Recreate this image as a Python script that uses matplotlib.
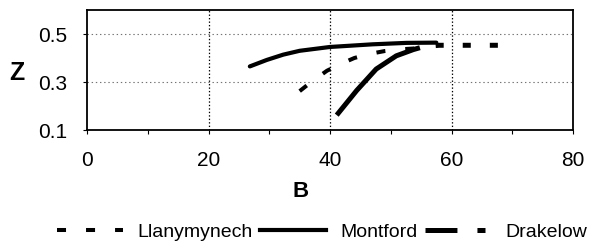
import matplotlib
matplotlib.use('Agg')
import matplotlib.pyplot as plt
from matplotlib.lines import Line2D
from matplotlib.ticker import MultipleLocator

plt.rcParams['font.family'] = ['Liberation Sans', 'DejaVu Sans']
plt.rcParams['lines.scale_dashes'] = False

# Dados
llany_b = [35.0, 37.0, 39.5, 42.0, 44.0, 46.5, 49.0, 51.5, 54.0, 55.5]
llany_z = [0.262, 0.302, 0.347, 0.378, 0.400, 0.417, 0.429, 0.436, 0.440, 0.443]

montford_b = [26.8, 29.6, 32.3, 35.0, 40.0, 47.0, 52.6, 57.5]
montford_z = [0.365, 0.392, 0.414, 0.430, 0.446, 0.457, 0.463, 0.464]

drake_b = [41.1, 44.4, 47.6, 50.9, 53.7, 55.5, 58.0, 62.5, 67.8]
drake_z = [0.162, 0.265, 0.354, 0.409, 0.435, 0.448, 0.453, 0.453, 0.453]

series_names = ['Llanymynech', 'Montford', 'Drakelow']
x_ticks = [0, 20, 40, 60, 80]
y_ticks = [0.1, 0.3, 0.5]

fig = plt.figure(figsize=(5.92, 2.5), dpi=100)
ax = fig.add_axes([0.147, 0.48, 0.821, 0.48])

# grade
for xv in x_ticks[1:-1]:
    ax.axvline(xv, color='black', lw=0.9, ls=(0, (1, 1.5)), zorder=1)
for yv in y_ticks[1:]:
    ax.axhline(yv, color='0.45', lw=0.8, ls=(0, (1, 2)), zorder=1)

# curvas
ax.plot(llany_b, llany_z, color='black', lw=2.9, ls=(0, (6.5, 14.4)))
ax.plot(montford_b, montford_z, color='black', lw=3.0, solid_capstyle='round')
ax.plot(drake_b, drake_z, color='black', lw=3.6,
        ls=(0, (79, 11.5, 5.8, 13.7, 5.8, 13.7, 5.8, 40)))

ax.set_xlim(0, 80)
ax.set_ylim(0.1, 0.6)
ax.set_xticks(x_ticks)
ax.set_yticks(y_ticks)
ax.set_yticklabels(['0.1', '0.3', '0.5'])
ax.xaxis.set_minor_locator(MultipleLocator(10))
ax.tick_params(axis='x', which='both', direction='out', length=3, width=0.8,
               labelsize=15, pad=12)
ax.tick_params(axis='y', direction='out', length=3, width=0.8,
               labelsize=15, pad=11)
for s in ax.spines.values():
    s.set_linewidth(1.3)

ax.set_xlabel('B', fontsize=16, fontweight='bold')
ax.xaxis.label.set_va('baseline')
ax.xaxis.set_label_coords(0.44, -0.558)
ax.set_ylabel('Z', fontsize=18, fontweight='bold', rotation=0)
ax.yaxis.label.set_va('baseline')
ax.yaxis.label.set_ha('center')
ax.yaxis.set_label_coords(-0.145, 0.417)

# legenda
handles = [
    Line2D([], [], color='black', lw=2.9, ls=(0, (6.5, 14.4))),
    Line2D([], [], color='black', lw=3.0),
    Line2D([], [], color='black', lw=3.6, ls=(0, (23, 14.4, 5.8, 14.4))),
]
fig.legend(handles, series_names, loc='center', bbox_to_anchor=(322 / 592, 1 - 232 / 250),
           ncol=3, frameon=False, fontsize=14, handlelength=3.4, handletextpad=0.72,
           columnspacing=0.4, borderpad=0, borderaxespad=0)

fig.savefig('out.png', dpi=100)
